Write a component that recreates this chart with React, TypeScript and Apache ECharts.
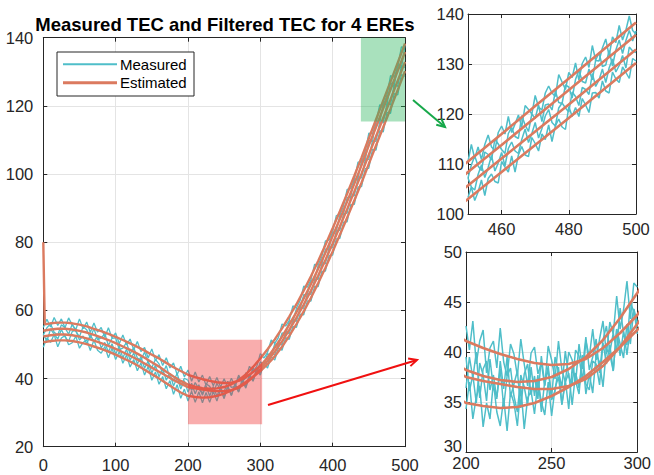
import React, { useEffect, useRef } from "react";
import * as echarts from "echarts";

const TITLE = "Measured TEC and Filtered TEC for 4 EREs";
const LEGEND_LABELS = ["Measured", "Estimated"];

// tick labels
const MAIN_X_TICKS = [0, 100, 200, 300, 400, 500];
const MAIN_Y_TICKS = [20, 40, 60, 80, 100, 120, 140];
const TOP_X_TICKS = [460, 480, 500];
const TOP_Y_TICKS = [100, 110, 120, 130, 140];
const BOT_X_TICKS = [200, 250, 300];
const BOT_Y_TICKS = [30, 35, 40, 45, 50];

// zoom boxes on the main plot: [x0, y0, x1, y1]
const GREEN_BOX = [439, 115.4, 500, 140];
const RED_BOX = [200, 26.6, 302.5, 51.4];

// estimated (filtered) TEC
const EST_X = [0, 2, 10, 20, 30, 40, 50, 60, 70, 80, 90, 100, 110, 120, 130, 140, 150, 160, 170, 180, 190, 200, 210, 220, 230, 240, 250, 260, 270, 280, 290, 300, 310, 320, 330, 340, 350, 360, 370, 380, 390, 400, 410, 420, 430, 440, 450, 460, 470, 480, 490, 500];
const EST_1 = [80.0, 55.9, 56.2, 56.4, 56.4, 56.2, 55.8, 55.3, 54.6, 53.9, 53.1, 52.2, 51.3, 50.3, 49.3, 48.2, 47.0, 45.9, 44.6, 43.3, 42.2, 41.1, 40.4, 39.8, 39.3, 38.9, 38.7, 38.8, 39.3, 40.4, 41.9, 43.7, 46.2, 49.1, 52.3, 55.8, 59.5, 63.5, 67.7, 72.2, 76.9, 81.8, 86.8, 91.9, 97.2, 102.6, 108.4, 113.8, 119.3, 124.8, 130.3, 135.8];
const EST_2 = [54.1, 54.1, 54.4, 54.6, 54.6, 54.4, 54.0, 53.5, 52.8, 52.1, 51.3, 50.4, 49.4, 48.4, 47.3, 46.1, 44.8, 43.5, 42.0, 40.6, 39.3, 38.2, 37.6, 37.2, 37.0, 37.1, 37.5, 38.3, 39.5, 41.2, 43.4, 45.9, 48.6, 51.5, 54.7, 58.2, 61.8, 65.8, 70.0, 74.5, 79.2, 84.1, 89.1, 94.2, 99.5, 104.9, 110.5, 116.0, 121.6, 127.1, 132.7, 138.3];
const EST_3 = [52.4, 52.4, 52.7, 52.9, 52.9, 52.7, 52.3, 51.8, 51.1, 50.4, 49.6, 48.7, 47.7, 46.7, 45.6, 44.4, 43.2, 42.0, 40.8, 39.6, 38.5, 37.5, 37.1, 36.8, 36.5, 36.3, 36.3, 36.6, 37.3, 38.6, 40.5, 42.8, 45.2, 47.9, 50.9, 54.3, 57.9, 61.7, 65.8, 70.2, 74.8, 79.6, 84.6, 89.7, 94.9, 100.2, 105.7, 111.1, 116.5, 121.9, 127.4, 132.9];
const EST_4 = [50.7, 50.7, 51.0, 51.2, 51.2, 51.0, 50.6, 50.1, 49.4, 48.7, 47.9, 47.0, 46.0, 45.0, 43.9, 42.6, 41.3, 40.0, 38.6, 37.2, 35.9, 34.9, 34.6, 34.4, 34.5, 34.9, 35.6, 36.5, 37.6, 39.0, 40.5, 42.2, 44.2, 46.5, 49.3, 52.5, 56.0, 59.7, 63.7, 68.0, 72.5, 77.3, 82.2, 87.2, 92.3, 97.5, 103.0, 108.4, 113.8, 119.2, 124.7, 130.2];

// measured TEC, whole run
const MEAS_X = [0, 5, 10, 15, 20, 25, 30, 35, 40, 45, 50, 55, 60, 65, 70, 75, 80, 85, 90, 95, 100, 105, 110, 115, 120, 125, 130, 135, 140, 145, 150, 155, 160, 165, 170, 175, 180, 185, 190, 195, 200, 205, 210, 215, 220, 225, 230, 235, 240, 245, 250, 255, 260, 265, 270, 275, 280, 285, 290, 295, 300, 305, 310, 315, 320, 325, 330, 335, 340, 345, 350, 355, 360, 365, 370, 375, 380, 385, 390, 395, 400, 405, 410, 415, 420, 425, 430, 435, 440, 445, 450, 455, 460, 465, 470, 475, 480, 485, 490, 495, 500];
const MEAS_1 = [55.0, 57.4, 55.1, 57.9, 55.6, 57.5, 54.9, 57.8, 55.7, 54.4, 57.5, 54.6, 56.6, 53.5, 56.3, 53.6, 55.0, 52.1, 54.9, 51.9, 53.4, 50.2, 52.8, 49.9, 51.6, 48.4, 50.9, 47.9, 49.1, 46.0, 48.7, 45.3, 47.0, 43.8, 46.1, 43.1, 44.6, 41.1, 43.6, 40.5, 42.5, 39.2, 41.9, 39.0, 41.0, 38.0, 40.6, 37.9, 40.3, 37.5, 39.9, 37.4, 40.1, 37.8, 40.5, 38.6, 41.7, 40.0, 43.1, 41.6, 44.9, 43.9, 47.3, 46.7, 50.2, 49.8, 53.4, 53.0, 56.9, 56.7, 60.6, 60.4, 64.6, 64.6, 68.9, 68.9, 73.3, 73.5, 78.0, 78.3, 82.9, 83.2, 88.0, 88.3, 93.1, 93.4, 98.5, 98.6, 104.0, 104.0, 110.0, 109.4, 115.7, 114.8, 121.1, 120.1, 126.9, 125.6, 132.4, 131.0, 137.9];
const MEAS_2 = [52.8, 54.9, 56.1, 53.6, 52.8, 55.8, 54.9, 53.0, 56.0, 53.8, 52.3, 55.2, 54.3, 51.9, 54.7, 51.4, 51.9, 53.2, 49.7, 51.8, 51.9, 48.5, 48.9, 50.6, 47.2, 49.1, 46.0, 45.4, 47.8, 44.6, 43.2, 45.6, 44.3, 41.4, 43.8, 40.1, 39.3, 41.5, 37.9, 40.1, 39.5, 36.5, 38.8, 37.0, 35.6, 38.5, 37.7, 35.6, 38.6, 36.5, 36.1, 39.2, 37.4, 37.6, 41.0, 39.1, 40.2, 43.6, 42.1, 43.5, 47.3, 46.0, 47.7, 51.3, 50.3, 52.0, 56.0, 55.4, 57.1, 61.3, 60.7, 62.9, 67.1, 66.8, 69.0, 73.5, 73.4, 75.7, 80.4, 80.6, 83.0, 87.8, 88.1, 90.5, 95.5, 95.7, 98.3, 103.5, 103.6, 106.6, 112.0, 111.8, 114.9, 120.3, 120.1, 123.1, 128.9, 128.4, 131.4, 137.3, 137.0];
const MEAS_3 = [52.9, 51.0, 54.5, 53.0, 51.6, 54.4, 52.2, 50.9, 53.8, 54.1, 51.3, 52.5, 50.1, 52.8, 50.8, 52.6, 49.0, 50.6, 47.8, 50.2, 47.1, 49.5, 46.0, 48.6, 45.4, 47.5, 44.3, 46.4, 43.0, 45.2, 41.6, 43.9, 40.5, 42.9, 39.5, 41.6, 37.8, 40.3, 36.9, 39.4, 36.0, 38.6, 35.5, 38.2, 35.1, 37.9, 34.9, 37.7, 34.8, 37.5, 34.7, 37.8, 35.1, 38.2, 36.0, 39.2, 37.2, 40.8, 39.3, 42.9, 41.6, 45.2, 44.1, 47.7, 46.8, 50.5, 49.8, 53.7, 53.2, 57.2, 56.8, 60.9, 60.6, 64.9, 64.7, 69.1, 69.1, 73.6, 73.7, 78.3, 78.4, 83.3, 83.5, 88.3, 88.5, 93.4, 93.7, 98.8, 98.9, 104.2, 104.3, 109.8, 109.6, 115.3, 115.0, 120.7, 120.3, 126.3, 125.7, 131.8, 131.3];
const MEAS_4 = [49.2, 51.9, 50.6, 52.9, 49.3, 51.9, 52.6, 49.9, 50.5, 52.4, 48.9, 50.6, 51.4, 48.2, 51.3, 48.3, 47.4, 49.4, 46.1, 48.9, 45.6, 47.9, 44.5, 46.9, 43.4, 45.6, 42.3, 44.6, 41.0, 43.6, 39.5, 41.9, 38.3, 40.6, 37.0, 39.4, 35.4, 38.2, 34.2, 36.9, 33.4, 36.3, 33.0, 36.1, 32.9, 35.9, 33.0, 36.2, 33.4, 36.8, 34.1, 37.6, 35.0, 38.5, 36.2, 39.7, 37.7, 41.1, 39.2, 42.6, 41.0, 44.4, 43.1, 46.5, 45.4, 49.0, 48.3, 52.0, 51.5, 55.3, 55.0, 58.9, 58.7, 62.8, 62.7, 67.0, 67.0, 71.4, 71.5, 76.1, 76.2, 81.0, 81.1, 85.9, 86.0, 91.0, 91.1, 96.2, 96.3, 101.6, 101.7, 107.2, 107.0, 112.7, 112.4, 118.1, 117.8, 123.6, 123.2, 129.2, 128.7];

// measured TEC, detail 450-500 (top inset)
const TOP_X = [450, 451, 452, 453, 454, 455, 456, 457, 458, 459, 460, 461, 462, 463, 464, 465, 466, 467, 468, 469, 470, 471, 472, 473, 474, 475, 476, 477, 478, 479, 480, 481, 482, 483, 484, 485, 486, 487, 488, 489, 490, 491, 492, 493, 494, 495, 496, 497, 498, 499, 500];
const TOP_1 = [107.2, 109.8, 111.6, 109.6, 108.7, 112.4, 111.9, 110.8, 115.0, 114.0, 112.9, 112.1, 116.1, 117.3, 115.5, 115.1, 119.7, 117.8, 116.5, 120.0, 119.1, 121.8, 118.5, 121.8, 122.0, 120.8, 124.6, 122.3, 122.1, 125.8, 125.4, 123.2, 126.9, 128.8, 126.5, 126.2, 129.0, 126.8, 130.8, 132.2, 129.5, 129.8, 132.7, 129.6, 132.8, 134.8, 132.1, 134.7, 136.7, 134.6, 136.6];
const TOP_2 = [110.5, 113.9, 111.1, 113.4, 110.9, 113.9, 115.8, 113.4, 112.7, 116.3, 117.6, 116.0, 119.5, 116.3, 118.0, 119.8, 117.4, 121.7, 120.9, 120.0, 123.7, 121.4, 120.8, 124.2, 125.6, 124.2, 123.5, 127.9, 126.4, 124.9, 128.3, 127.3, 130.2, 126.8, 130.1, 131.4, 129.3, 133.7, 130.7, 130.6, 133.2, 135.0, 131.6, 135.4, 134.3, 137.7, 134.8, 136.8, 139.6, 136.7, 136.0];
const TOP_3 = [107.2, 105.4, 104.8, 107.9, 109.8, 107.3, 109.3, 111.7, 108.6, 110.2, 112.3, 109.6, 113.1, 114.4, 112.6, 112.1, 114.9, 117.0, 114.3, 116.1, 118.3, 115.2, 117.1, 119.6, 120.9, 118.3, 117.6, 121.2, 122.2, 121.2, 120.4, 124.4, 123.5, 121.7, 125.3, 124.9, 123.9, 128.1, 125.5, 126.8, 129.0, 126.3, 129.2, 131.0, 128.4, 129.7, 131.7, 129.2, 133.4, 132.6, 132.3];
const TOP_4 = [103.3, 105.4, 102.7, 104.4, 106.8, 103.7, 107.1, 108.0, 106.5, 106.2, 110.5, 109.4, 108.4, 111.6, 108.4, 111.8, 113.5, 111.8, 111.5, 115.3, 114.1, 112.6, 116.0, 114.9, 117.8, 114.5, 117.6, 119.0, 117.4, 116.9, 121.5, 119.5, 121.3, 119.5, 123.1, 121.8, 120.3, 124.2, 124.3, 123.2, 126.6, 124.6, 124.2, 128.4, 127.0, 126.3, 129.4, 128.3, 127.1, 131.1, 130.6];

// measured TEC, detail 200-300 (bottom inset)
const BOT_X = [200, 202, 204, 206, 208, 210, 212, 214, 216, 218, 220, 222, 224, 226, 228, 230, 232, 234, 236, 238, 240, 242, 244, 246, 248, 250, 252, 254, 256, 258, 260, 262, 264, 266, 268, 270, 272, 274, 276, 278, 280, 282, 284, 286, 288, 290, 292, 294, 296, 298, 300];
const BOT_1 = [42.6, 40.2, 43.1, 38.8, 41.1, 42.2, 37.9, 40.4, 41.1, 38.4, 42.4, 39.0, 37.6, 40.8, 39.8, 37.6, 41.3, 38.8, 36.6, 39.9, 40.5, 37.8, 38.9, 36.6, 40.6, 39.2, 37.3, 41.1, 38.2, 37.0, 40.0, 39.2, 36.9, 40.8, 38.3, 41.5, 38.2, 39.5, 41.3, 37.9, 41.2, 42.6, 40.0, 41.9, 40.0, 44.4, 41.9, 40.7, 45.0, 44.0, 42.5];
const BOT_2 = [36.4, 39.5, 37.4, 40.0, 35.4, 38.3, 39.1, 36.2, 37.7, 35.3, 39.1, 36.3, 39.5, 35.5, 36.8, 38.1, 34.4, 37.8, 38.8, 35.7, 37.6, 35.3, 39.6, 36.7, 38.6, 35.4, 39.5, 38.0, 36.5, 40.1, 37.5, 36.8, 40.2, 39.6, 37.1, 41.1, 39.5, 42.3, 39.2, 41.3, 43.1, 39.8, 43.0, 41.8, 45.6, 42.3, 44.2, 47.1, 43.3, 46.9, 46.5];
const BOT_3 = [39.5, 36.1, 37.7, 34.9, 38.9, 37.7, 35.1, 39.3, 36.4, 35.5, 38.3, 34.5, 37.6, 38.4, 35.6, 34.0, 37.7, 36.5, 34.7, 38.5, 35.6, 37.7, 34.0, 37.1, 38.2, 35.2, 36.1, 38.5, 34.7, 37.0, 37.9, 34.7, 37.9, 36.4, 39.6, 35.8, 37.8, 35.9, 39.7, 39.0, 36.5, 40.3, 39.8, 38.1, 42.3, 39.6, 42.1, 39.7, 42.5, 44.3, 41.8];
const BOT_4 = [34.3, 37.0, 33.3, 35.5, 36.6, 32.5, 34.9, 33.3, 37.0, 34.0, 32.6, 35.4, 32.1, 36.0, 34.9, 32.6, 36.6, 32.3, 35.4, 36.1, 33.8, 37.1, 35.0, 33.7, 37.0, 33.6, 36.4, 37.5, 34.8, 37.2, 34.3, 38.4, 37.1, 35.8, 39.7, 36.8, 36.2, 39.1, 38.8, 36.7, 40.9, 38.8, 40.7, 38.1, 42.3, 40.8, 39.4, 42.8, 40.8, 44.3, 43.0];

const FONT = "'Liberation Sans', Arial, Helvetica, sans-serif";
const AXIS_COLOR = "#262626";
const GRID_COLOR = "#e4e4e4";
const CYAN = "#4fbec9";
const ORANGE = "#db7a5f";
const GREEN_FILL = "rgba(40,180,90,0.40)";
const RED_FILL = "rgba(240,40,40,0.38)";
const GREEN_ARROW = "#17a84a";
const RED_ARROW = "#f01010";
const TICK_FONT = 16.5;

const zip = (xs: number[], ys: number[]) => ys.map((y, i) => [xs[i], y]);

function makeAxis(
  gridIndex: number,
  position: string,
  min: number,
  max: number,
  ticks: number[],
  margin: number,
  main: boolean,
  liftMin = false
) {
  const label: any = {
    show: main,
    customValues: ticks,
    margin,
    color: AXIS_COLOR,
    fontSize: TICK_FONT,
    fontFamily: FONT,
    showMinLabel: true,
    showMaxLabel: true,
  };
  if (liftMin) {
    // the lowest label sits a little higher, as in the reference inset
    label.formatter = (v: number) => (v === min ? `{lift|${v}}` : `${v}`);
    label.rich = {
      lift: {
        fontSize: TICK_FONT,
        fontFamily: FONT,
        color: AXIS_COLOR,
        padding: [0, 0, 13, 0],
      },
    };
  }
  return {
    type: "value",
    gridIndex,
    position,
    min,
    max,
    axisLine: { show: true, onZero: false, lineStyle: { color: AXIS_COLOR, width: 1 } },
    axisTick: {
      show: true,
      inside: true,
      length: 4,
      customValues: ticks,
      lineStyle: { color: AXIS_COLOR, width: 1 },
    },
    axisLabel: label,
    splitLine: { show: main, lineStyle: { color: GRID_COLOR, width: 1 } },
    axisPointer: { show: false },
  };
}

function arrow(x0: number, y0: number, x1: number, y1: number, color: string, w: number) {
  const ang = Math.atan2(y1 - y0, x1 - x0);
  const len = 9;
  const spread = (26 * Math.PI) / 180;
  const a1 = ang + Math.PI - spread;
  const a2 = ang + Math.PI + spread;
  return [
    {
      type: "line",
      shape: { x1: x0, y1: y0, x2: x1, y2: y1 },
      style: { stroke: color, lineWidth: w },
      z: 100,
    },
    {
      type: "polyline",
      shape: {
        points: [
          [x1 + len * Math.cos(a1), y1 + len * Math.sin(a1)],
          [x1, y1],
          [x1 + len * Math.cos(a2), y1 + len * Math.sin(a2)],
        ],
      },
      style: { stroke: color, lineWidth: w, fill: null },
      z: 100,
    },
  ];
}

export default function App() {
  const ref = useRef<HTMLDivElement>(null);

  useEffect(() => {
    document.body.style.margin = "0";
    if (!ref.current) return;
    const chart = echarts.init(ref.current, undefined, { renderer: "svg" });

    const measuredMain = [MEAS_1, MEAS_2, MEAS_3, MEAS_4];
    const measuredTop = [TOP_1, TOP_2, TOP_3, TOP_4];
    const measuredBot = [BOT_1, BOT_2, BOT_3, BOT_4];
    const estimated = [EST_1, EST_2, EST_3, EST_4];

    const series: any[] = [];
    const addPanel = (axisIndex: number, xs: number[], meas: number[][], cyanW: number, orangeW: number) => {
      meas.forEach((m) => {
        series.push({
          type: "line",
          name: LEGEND_LABELS[0],
          xAxisIndex: axisIndex,
          yAxisIndex: axisIndex,
          data: zip(xs, m),
          showSymbol: false,
          symbol: "none",
          silent: true,
          clip: true,
          z: 2,
          lineStyle: { color: CYAN, width: cyanW },
        });
      });
      estimated.forEach((e) => {
        series.push({
          type: "line",
          name: LEGEND_LABELS[1],
          xAxisIndex: axisIndex,
          yAxisIndex: axisIndex,
          data: zip(EST_X, e),
          showSymbol: false,
          symbol: "none",
          silent: true,
          clip: true,
          z: 3,
          lineStyle: { color: ORANGE, width: orangeW },
        });
      });
    };
    addPanel(0, MEAS_X, measuredMain, 1.3, 2.4);
    addPanel(2, TOP_X, measuredTop, 1.5, 2.6);
    addPanel(4, BOT_X, measuredBot, 1.5, 2.6);

    const boxFills = [GREEN_FILL, RED_FILL];
    series.push({
      type: "custom",
      xAxisIndex: 0,
      yAxisIndex: 0,
      silent: true,
      z: 10,
      data: [GREEN_BOX, RED_BOX],
      renderItem: (params: any, api: any) => {
        const p0 = api.coord([api.value(0), api.value(3)]);
        const p1 = api.coord([api.value(2), api.value(1)]);
        return {
          type: "rect",
          shape: { x: p0[0], y: p0[1], width: p1[0] - p0[0], height: p1[1] - p0[1] },
          style: { fill: boxFills[params.dataIndex] },
        };
      },
    });

    const option: any = {
      animation: false,
      backgroundColor: "#ffffff",
      textStyle: { fontFamily: FONT },
      grid: [
        { left: 43.3, top: 37.7, width: 361.7, height: 409, containLabel: false },
        { left: 468, top: 14, width: 168, height: 200, containLabel: false },
        { left: 466, top: 252, width: 176, height: 200, containLabel: false },
      ],
      xAxis: [
        makeAxis(0, "bottom", 0, 500, MAIN_X_TICKS, 10, true),
        makeAxis(0, "top", 0, 500, MAIN_X_TICKS, 10, false),
        makeAxis(1, "bottom", 450, 500, TOP_X_TICKS, 6, true),
        makeAxis(1, "top", 450, 500, TOP_X_TICKS, 6, false),
        makeAxis(2, "bottom", 200, 300, BOT_X_TICKS, 2, true),
        makeAxis(2, "top", 200, 300, BOT_X_TICKS, 2, false),
      ],
      yAxis: [
        makeAxis(0, "left", 20, 140, MAIN_Y_TICKS, 10, true),
        makeAxis(0, "right", 20, 140, MAIN_Y_TICKS, 10, false),
        makeAxis(1, "left", 100, 140, TOP_Y_TICKS, 4, true),
        makeAxis(1, "right", 100, 140, TOP_Y_TICKS, 4, false),
        makeAxis(2, "left", 30, 50, BOT_Y_TICKS, 4, true, true),
        makeAxis(2, "right", 30, 50, BOT_Y_TICKS, 4, false),
      ],
      series,
      graphic: [
        {
          type: "text",
          x: 225,
          y: 24,
          z: 100,
          style: {
            text: TITLE,
            font: `bold 18.5px ${FONT}`,
            fill: "#000000",
            textAlign: "center",
            align: "center",
            textVerticalAlign: "middle",
            verticalAlign: "middle",
          },
        },
        {
          type: "rect",
          z: 90,
          shape: { x: 57, y: 52, width: 137, height: 44 },
          style: { fill: "#ffffff", stroke: AXIS_COLOR, lineWidth: 1 },
        },
        {
          type: "line",
          z: 91,
          shape: { x1: 63, y1: 64.3, x2: 117, y2: 64.3 },
          style: { stroke: CYAN, lineWidth: 2 },
        },
        {
          type: "line",
          z: 91,
          shape: { x1: 63, y1: 82.7, x2: 117, y2: 82.7 },
          style: { stroke: ORANGE, lineWidth: 3 },
        },
        {
          type: "text",
          x: 120,
          y: 64.3,
          z: 92,
          style: {
            text: LEGEND_LABELS[0],
            font: `15px ${FONT}`,
            fill: "#000000",
            textAlign: "left",
            align: "left",
            textVerticalAlign: "middle",
            verticalAlign: "middle",
          },
        },
        {
          type: "text",
          x: 120,
          y: 82.7,
          z: 92,
          style: {
            text: LEGEND_LABELS[1],
            font: `15px ${FONT}`,
            fill: "#000000",
            textAlign: "left",
            align: "left",
            textVerticalAlign: "middle",
            verticalAlign: "middle",
          },
        },
        ...arrow(413, 100, 445, 127, GREEN_ARROW, 2),
        ...arrow(268, 405, 417, 360, RED_ARROW, 2),
      ],
    };

    chart.setOption(option);
    return () => {
      chart.dispose();
    };
  }, []);

  return <div ref={ref} style={{ width: 654, height: 475 }} />;
}
